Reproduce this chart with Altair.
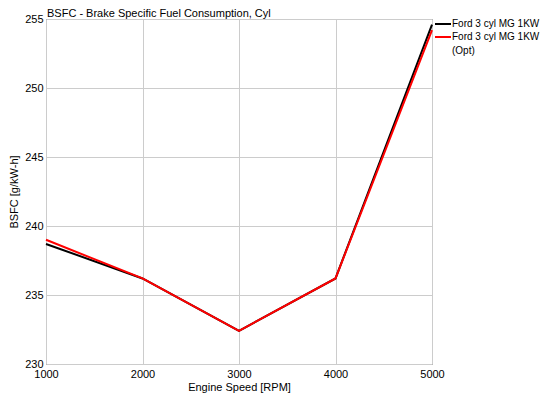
import altair as alt
import pandas as pd

rpm = [1000, 2000, 3000, 4000, 5000]
bsfc_base = [238.7, 236.2, 232.4, 236.2, 254.6]
bsfc_opt = [239.0, 236.2, 232.4, 236.2, 254.2]
series_names = ["Ford 3 cyl MG 1KW", "Ford 3 cyl MG 1KW (Opt)"]
series_colors = ["#000000", "#ff0000"]
chart_title = "BSFC - Brake Specific Fuel Consumption, Cyl"

rows = []
for i, r in enumerate(rpm):
    rows.append({"rpm": r, "bsfc": bsfc_base[i], "series": series_names[0], "ord": 0})
for i, r in enumerate(rpm):
    rows.append({"rpm": r, "bsfc": bsfc_opt[i], "series": series_names[1], "ord": 1})
df = pd.DataFrame(rows)

FONT = "Liberation Sans"
W, H = 386, 345

lines = alt.Chart(df).mark_line(strokeWidth=2).encode(
    x=alt.X("rpm:Q",
            scale=alt.Scale(domain=[1000, 5000], nice=False, zero=False),
            axis=alt.Axis(title="Engine Speed [RPM]", values=[1000, 2000, 3000, 4000, 5000],
                          format="d", labelPadding=4, tickSize=0, domain=False,
                          titleX=193, titleY=23, titleBaseline="middle",
                          labelFlush=False, labelOverlap=False)),
    y=alt.Y("bsfc:Q",
            scale=alt.Scale(domain=[230, 255], nice=False, zero=False),
            axis=alt.Axis(title="BSFC [g/kW-h]", values=[230, 235, 240, 245, 250, 255],
                          labelPadding=3, tickSize=0, domain=False,
                          titleX=-32, titleY=H / 2, titleBaseline="middle", titleAngle=-90,
                          labelFlush=False, labelOverlap=False)),
    color=alt.Color("series:N",
                    scale=alt.Scale(domain=series_names, range=series_colors),
                    legend=None),
    order="ord:Q",
)

leg_df = pd.DataFrame({"series": series_names})
color_enc = alt.Color("series:N", scale=alt.Scale(domain=series_names, range=series_colors), legend=None)

def only(name):
    return alt.Chart(leg_df).transform_filter(alt.datum.series == name)

leg1_line = only(series_names[0]).mark_rule(strokeWidth=2).encode(
    x=alt.value(389), x2=alt.value(405), y=alt.value(5), color=color_enc)
leg2_line = only(series_names[1]).mark_rule(strokeWidth=2).encode(
    x=alt.value(389), x2=alt.value(405), y=alt.value(18), color=color_enc)
txt = dict(align="left", baseline="middle", font=FONT, fontSize=10, color="#000000")
leg1_text = only(series_names[0]).mark_text(**txt).encode(
    x=alt.value(406), y=alt.value(5), text=alt.value("Ford 3 cyl MG 1KW"))
leg2_text = only(series_names[1]).mark_text(**txt).encode(
    x=alt.value(406), y=alt.value(18), text=alt.value("Ford 3 cyl MG 1KW"))
leg2_text_b = only(series_names[1]).mark_text(**txt).encode(
    x=alt.value(406), y=alt.value(32), text=alt.value("(Opt)"))
title_text = only(series_names[0]).mark_text(
    align="left", baseline="alphabetic", font=FONT, fontSize=11, color="#000000").encode(
    x=alt.value(1), y=alt.value(-2), text=alt.value(chart_title))

chart = alt.layer(lines, leg1_line, leg2_line, leg1_text, leg2_text, leg2_text_b, title_text).properties(
    width=W, height=H,
    autosize=alt.AutoSizeParams(type="none"),
    padding={"left": 38, "top": 11, "right": 110, "bottom": 29},
).configure_view(
    stroke="#555555", strokeWidth=1
).configure_axis(
    gridColor="#cccccc", gridWidth=1, labelFont=FONT, labelFontSize=11,
    labelColor="#000000", titleFont=FONT, titleFontSize=11, titleFontWeight="normal",
    titleColor="#000000"
)

chart.save("out.html", embed_options={"renderer": "svg", "actions": False})
